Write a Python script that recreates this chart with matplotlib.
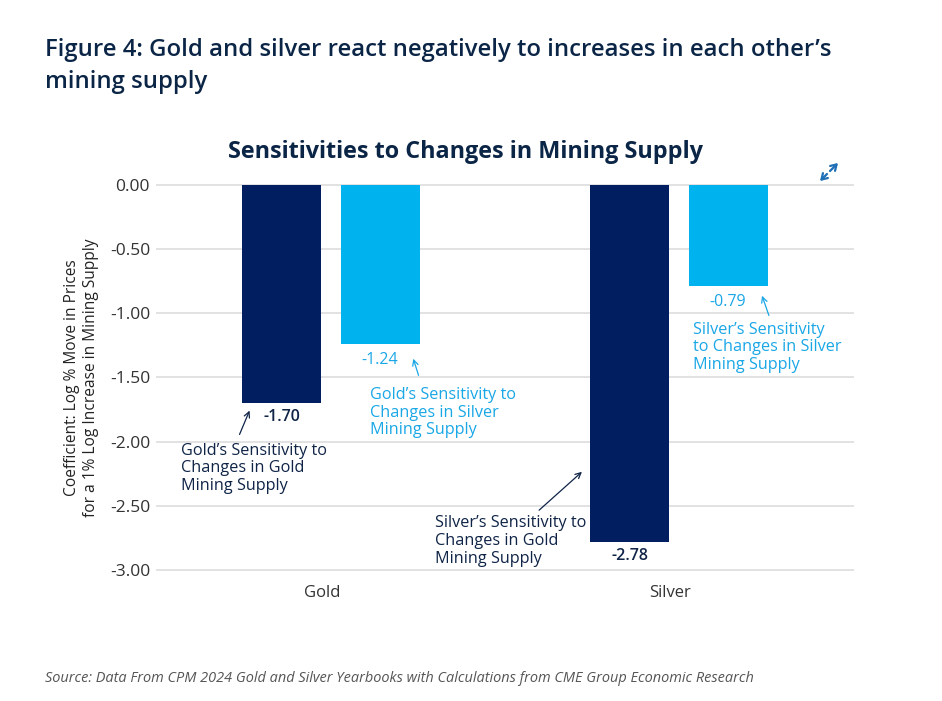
import numpy as np
import matplotlib
matplotlib.use("Agg")
import matplotlib.pyplot as plt
from matplotlib.patches import FancyArrowPatch
from matplotlib.ticker import FormatStrFormatter
import matplotlib.transforms as mtrans

# データ
categories = ["Gold", "Silver"]
gold_supply = [-1.70, -2.78]    # 金の採掘供給に対する感応度
silver_supply = [-1.24, -0.79]  # 銀の採掘供給に対する感応度
yticks = [0.0, -0.5, -1.0, -1.5, -2.0, -2.5, -3.0]

dark = "#001E60"
light = "#00B2EE"
light_txt = "#1AA7E6"
navy_txt = "#0F2447"

plt.rcParams["font.family"] = ["Open Sans", "DejaVu Sans"]
plt.rcParams["axes.unicode_minus"] = False

fig = plt.figure(figsize=(9.42, 7.01), dpi=100)
ax = fig.add_axes([0.1667, 0.187, 0.7388, 0.549])

x = np.arange(len(categories))
w = 0.227
off = 0.141
ax.bar(x - off, gold_supply, w, color=dark, zorder=3)
ax.bar(x + off, silver_supply, w, color=light, zorder=3)

ax.set_xlim(-0.5, 1.5)
ax.set_ylim(-3.0, 0.0)
ax.set_yticks(yticks)
ax.yaxis.set_major_formatter(FormatStrFormatter("%.2f"))
ax.set_xticks(x)
ax.set_xticklabels(categories)
ax.grid(axis="y", color="#E2E2E2", linewidth=1.4, zorder=0)
for gl in ax.get_ygridlines():
    gl.set_clip_on(False)
for s in ax.spines.values():
    s.set_visible(False)
ax.tick_params(length=0, colors="#333333")
ax.tick_params(axis="x", pad=11, labelsize=12)
ax.tick_params(axis="y", pad=5, labelsize=12.5)
# x ラベルを少し左へ
shift = mtrans.ScaledTranslation(-9 / 100, 0, fig.dpi_scale_trans)
for lbl in ax.get_xticklabels():
    lbl.set_transform(lbl.get_transform() + shift)

ax.set_ylabel("Coefficient: Log % Move in Prices\nfor a 1% Log Increase in Mining Supply",
              fontsize=11.2, color="#222222", labelpad=8, linespacing=1.2)

# 値ラベル
ax.text(x[0] - off, gold_supply[0] - 0.11, "-1.70", ha="center", va="center",
        fontsize=11.5, color=navy_txt, fontweight="semibold")
ax.text(x[1] - off, gold_supply[1] - 0.11, "-2.78", ha="center", va="center",
        fontsize=11.5, color=navy_txt, fontweight="semibold")
ax.text(x[0] + off, silver_supply[0] - 0.12, "-1.24", ha="center", va="center",
        fontsize=11.5, color=light_txt)
ax.text(x[1] + off, silver_supply[1] - 0.12, "-0.79", ha="center", va="center",
        fontsize=11.5, color=light_txt)

# 注釈
def note(txt, xy, xytext, tx, ty, color):
    ax.annotate("", xy=xy, xytext=xytext,
                arrowprops=dict(arrowstyle="->", color=color, lw=0.9))
    ax.text(tx, ty, txt, ha="left", va="top", fontsize=11.7, color=color,
            linespacing=1.13)

note("Gold\u2019s Sensitivity to\nChanges in Gold\nMining Supply",
     (-0.231, -1.738), (-0.266, -1.964), -0.432, -2.01, navy_txt)
note("Gold\u2019s Sensitivity to\nChanges in Silver\nMining Supply",
     (0.234, -1.333), (0.254, -1.504), 0.113, -1.575, light_txt)
note("Silver\u2019s Sensitivity\nto Changes in Silver\nMining Supply",
     (1.236, -0.842), (1.261, -1.037), 1.040, -1.065, light_txt)
note("Silver\u2019s Sensitivity to\nChanges in Gold\nMining Supply",
     (0.727, -2.221), (0.592, -2.549), 0.299, -2.575, navy_txt)

# タイトル
fig.text(45 / 942, 1 - 66 / 701, "Figure 4: Gold and silver react negatively to increases in each other\u2019s\nmining supply",
         ha="left", va="center", fontsize=17.2, fontweight="semibold", color="#0B2546",
         linespacing=1.45)
fig.text(465 / 942, 1 - 152 / 701, "Sensitivities to Changes in Mining Supply",
         ha="center", va="center", fontsize=16.8, fontweight="bold", color="#0B2546")
fig.text(45 / 942, 1 - 678 / 701,
         "Source: Data From CPM 2024 Gold and Silver Yearbooks with Calculations from CME Group Economic Research",
         ha="left", va="center", fontsize=10.45, style="italic", color="#555555")

# 拡大アイコン
ic = "#1E6FB5"
for p0, p1 in [((830, 171), (838, 163)), ((827, 174), (820, 181))]:
    fig.patches.append(FancyArrowPatch(
        (p0[0] / 942, 1 - p0[1] / 701), (p1[0] / 942, 1 - p1[1] / 701),
        transform=fig.transFigure,
        arrowstyle="->,head_length=4,head_width=2.5", color=ic, lw=1.6,
        shrinkA=0, shrinkB=0))

fig.savefig("out.png", dpi=100, facecolor="white")
